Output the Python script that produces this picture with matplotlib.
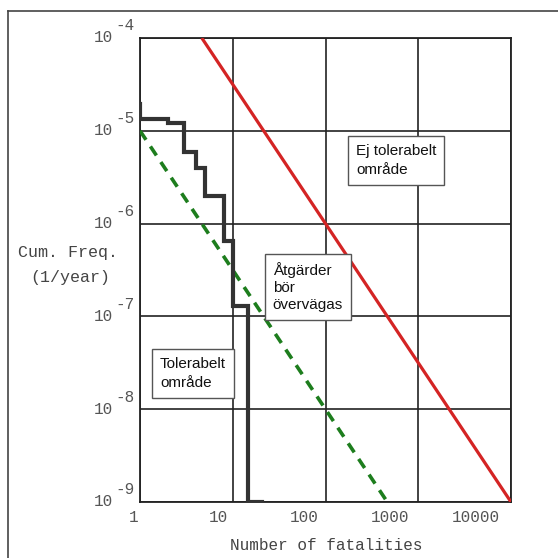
import numpy as np
import matplotlib
matplotlib.use('Agg')
import matplotlib.pyplot as plt
import matplotlib.transforms as mtransforms
from matplotlib.lines import Line2D

# step curve (cumulative frequency vs number of fatalities)
step_n = [1, 1, 2, 2, 3, 3, 4, 4, 5, 5, 8, 8, 10, 10, 14.6, 14.6, 20.5]
step_f = [1.95e-5, 1.34e-5, 1.34e-5, 1.21e-5, 1.21e-5, 5.9e-6, 5.9e-6, 4.0e-6,
          4.0e-6, 2.0e-6, 2.0e-6, 6.5e-7, 6.5e-7, 1.29e-7, 1.29e-7, 1e-9, 1e-9]

# criteria lines
upper_n = [10**(2/3), 10000]
upper_f = [1e-4, 1e-9]
lower_n = [1, 464]
lower_f = [1e-5, 1e-9]

xticks = [1, 10, 100, 1000, 10000]
xticklabels = ['1', '10', '100', '1000', '10000']
yexp = [-4, -5, -6, -7, -8, -9]

mono = 'Liberation Mono'
sans = 'Liberation Sans'
tcol = '#555555'

fig = plt.figure(figsize=(5.58, 5.58), dpi=100)
ax = fig.add_axes([140/558, 1-502/558, 371/558, 464/558])
ax.set_xscale('log')
ax.set_yscale('log')
ax.set_xlim(1, 10000)
ax.set_ylim(1e-9, 1e-4)

ax.grid(True, which='major', color='#222222', lw=1.2)
ax.minorticks_off()
ax.tick_params(length=0)
for s in ax.spines.values():
    s.set_color('#222222')
    s.set_linewidth(1.3)

ax.plot(upper_n, upper_f, color='#d42424', lw=2.3, solid_capstyle='butt', zorder=3)
ax.plot(lower_n, lower_f, color='#1d7d1d', lw=2.6, dashes=(3.0, 2.2), zorder=3)
ax.plot(step_n, step_f, color='#333333', lw=3.0, solid_joinstyle='miter', zorder=4)

# x tick labels
ax.set_xticks(xticks)
ax.set_xticklabels(xticklabels, fontfamily=mono, fontsize=11.5, color=tcol, ha='right')
for i, lab in enumerate(ax.get_xticklabels()):
    off = mtransforms.ScaledTranslation(-(2 + 2.3*i)/100, -3/100, fig.dpi_scale_trans)
    lab.set_transform(lab.get_transform() + off)

# y tick labels 10^-n with full-size superscript
ax.set_yticks([10.0**e for e in yexp])
ax.set_yticklabels([])
btr = mtransforms.blended_transform_factory(ax.transAxes, ax.transData)
for e in yexp:
    ax.text(-27/371, 10.0**e, '10', transform=btr, ha='right', va='center',
            fontfamily=mono, fontsize=11.5, color=tcol, clip_on=False)
    t2 = btr + mtransforms.ScaledTranslation(0, 12/100, fig.dpi_scale_trans)
    ax.text(-25/371, 10.0**e, '%d' % e, transform=t2, ha='left', va='center',
            fontfamily=mono, fontsize=11.5, color=tcol, clip_on=False)

fig.text(68/558, 1-252/558, 'Cum. Freq.', ha='center', va='center',
         fontfamily=mono, fontsize=12, color='#444444')
fig.text(70/558, 1-278/558, '(1/year)', ha='center', va='center',
         fontfamily=mono, fontsize=12, color='#444444')
fig.text(326/558, 1-545/558, 'Number of fatalities', ha='center', va='center',
         fontfamily=mono, fontsize=11.5, color='#444444')

box = dict(boxstyle='square,pad=0.5', fc='white', ec='#555555', lw=1.0)
ax.text(0.582, 0.736, 'Ej tolerabelt\nområde', transform=ax.transAxes, ha='left',
        va='center', fontfamily=sans, fontsize=11, color='#111111',
        linespacing=1.45, bbox=box, zorder=5)
ax.text(0.358, 0.463, 'Åtgärder\nbör\növervägas', transform=ax.transAxes, ha='left',
        va='center', fontfamily=sans, fontsize=11, color='#111111',
        linespacing=1.3, bbox=box, zorder=5)
ax.text(0.054, 0.277, 'Tolerabelt\nområde', transform=ax.transAxes, ha='left',
        va='center', fontfamily=sans, fontsize=11, color='#111111',
        linespacing=1.45, bbox=box, zorder=5)

# outer frame (left and top edges of the scanned page)
fig.add_artist(Line2D([8/558, 8/558], [0, 1-11/558], color='#444444', lw=1.2))
fig.add_artist(Line2D([8/558, 1], [1-11/558, 1-11/558], color='#444444', lw=1.2))

fig.savefig('out.png', dpi=100, facecolor='white')
